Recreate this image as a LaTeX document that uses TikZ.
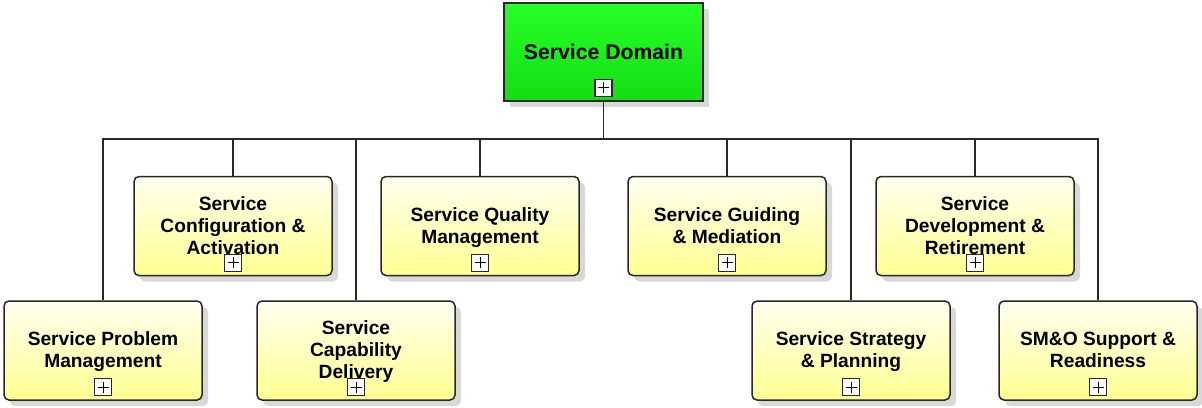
\documentclass[tikz,border=0pt]{standalone}
\usepackage{fontspec}
\setmainfont{Liberation Sans}
\usetikzlibrary{shadows}
\definecolor{boxline}{RGB}{40,40,40}
\definecolor{domtop}{RGB}{40,255,40}
\definecolor{dombot}{RGB}{18,222,18}
\definecolor{proctop}{RGB}{255,255,240}
\definecolor{procbot}{RGB}{255,255,145}
\definecolor{shadowgray}{RGB}{178,178,178}
% fixed height for the first and depth for the last line of a label
\newcommand\firstln{\rule{0pt}{19pt}}
\newcommand\lastln{\rule[-6.6pt]{0pt}{6.6pt}}
\begin{document}
\begin{tikzpicture}[x=1pt,y=-1pt,
  boxshadow/.style={drop shadow={shadow xshift=6pt,shadow yshift=-6pt,fill=shadowgray}},
  rootbox/.style={draw=boxline,line width=1.5pt,top color=domtop,bottom color=dombot,
    minimum width=199pt,minimum height=98pt,inner sep=0pt,align=center,
    font=\fontsize{21.2}{24}\selectfont\bfseries,boxshadow},
  procbox/.style={draw=boxline,line width=1.5pt,rounded corners=5pt,
    top color=proctop,bottom color=procbot,
    minimum width=198pt,minimum height=99pt,inner sep=0pt,align=center,
    font=\fontsize{19.2}{22}\selectfont\bfseries,boxshadow},
  expander/.style={draw=boxline,line width=1.2pt,fill=white,minimum size=17pt,inner sep=0pt,
    path picture={
      \draw[line width=1pt,black]
        ([xshift=-5.5pt]path picture bounding box.center) -- ([xshift=5.5pt]path picture bounding box.center)
        ([yshift=-5.5pt]path picture bounding box.center) -- ([yshift=5.5pt]path picture bounding box.center);}},
  link/.style={draw=boxline,line width=1.7pt}]
\useasboundingbox (0,0) rectangle (1202,407);

% root of the hierarchy
\node[rootbox] (dom) at (603.5,52) {Service Domain};

% first row of sub-domains
\node[procbox] (cfg) at (233,226) {\firstln Service\\Configuration \&\\Activation\lastln};
\node[procbox] (qual) at (480,226) {\firstln Service Quality\\Management\lastln};
\node[procbox] (guid) at (727,226) {\firstln Service Guiding\\\& Mediation\lastln};
\node[procbox] (dev) at (975,226) {\firstln Service\\Development \&\\Retirement\lastln};

% second row of sub-domains
\node[procbox] (prob) at (103,350.5) {\firstln Service Problem\\Management\lastln};
\node[procbox] (cap) at (356,350.5) {\firstln Service\\Capability\\Delivery\lastln};
\node[procbox] (strat) at (851,350.5) {\firstln Service Strategy\\\& Planning\lastln};
\node[procbox] (smo) at (1098,350.5) {\firstln SM\&O Support \&\\Readiness\lastln};

% expand markers
\node[expander] (domx) at ([yshift=14pt]dom.south) {};
\foreach \n in {cfg,qual,guid,dev,prob,cap,strat,smo}
  \node[expander] (\n x) at ([yshift=13.5pt]\n.south) {};

% tree connectors
\coordinate (bus) at (603.5,139);
\draw[link] (dom.south) -- (bus);
\foreach \n in {cfg,qual,guid,dev,prob,cap,strat,smo}
  \draw[link] (bus) -| (\n.north);
\end{tikzpicture}
\end{document}
